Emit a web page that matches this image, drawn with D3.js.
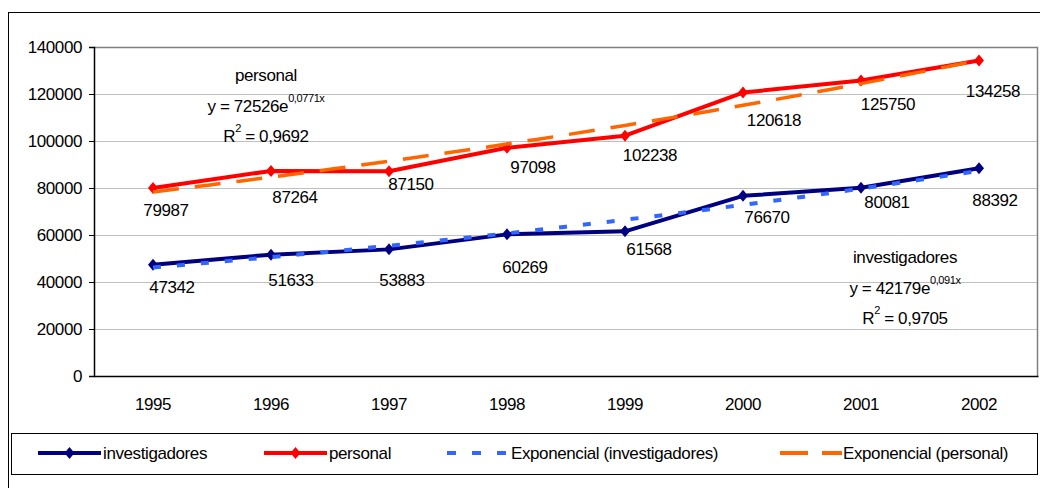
<!DOCTYPE html>
<html>
<head>
<meta charset="utf-8">
<script src="https://cdn.jsdelivr.net/npm/d3@7"></script>
<style>
  body { margin: 0; background: #fff; }
  svg { display: block; font-family: "Liberation Sans", Arial, sans-serif; }
  svg text { letter-spacing: -0.4px; }
</style>
</head>
<body>
<div id="chart"></div>
<script>
// data
const years = ["1995", "1996", "1997", "1998", "1999", "2000", "2001", "2002"];
const investigadores = [47342, 51633, 53883, 60269, 61568, 76670, 80081, 88392];
const personal = [79987, 87264, 87150, 97098, 102238, 120618, 125750, 134258];
const yTicks = [0, 20000, 40000, 60000, 80000, 100000, 120000, 140000];
// exponential trend coefficients shown on the chart: y = a * e^(b*x)
const trendInvestigadores = { a: 42179, b: 0.091, r2: "0,9705", bLabel: "0,091x" };
const trendPersonal = { a: 72526, b: 0.0771, r2: "0,9692", bLabel: "0,0771x" };

// label offsets (pixels) – the labels were moved by hand in the original
const offInv = [[19, 23], [20, 26], [13, 31], [18, 33], [24, 18], [24, 22], [26, 15], [16, 32]];
const offPer = [[13, 22], [24, 27], [22, 13], [26, 20], [25, 20], [31, 28], [27, 24], [14, 31]];

const width = 1040, height = 488;
const plot = { left: 94, right: 1038, top: 47, bottom: 376 };
const fs = 17;

const svg = d3.select("#chart").append("svg").attr("width", width).attr("height", height);

// outer chart border (runs off the right/bottom edge)
svg.append("rect").attr("x", 8.5).attr("y", 12.5).attr("width", 1100).attr("height", 600)
  .attr("fill", "none").attr("stroke", "#000").attr("stroke-width", 1);

const x = d3.scaleBand().domain(years).range([plot.left, plot.right]).padding(0);
const cx = d => x(d) + x.bandwidth() / 2;
const y = d3.scaleLinear().domain([0, 140000]).range([plot.bottom, plot.top]);
// continuous position for trendline (x = 1..8)
const xt = d3.scaleLinear().domain([1, years.length]).range([cx(years[0]), cx(years[years.length - 1])]);

// gridlines
svg.append("g").selectAll("line").data(yTicks.slice(1)).join("line")
  .attr("x1", plot.left).attr("x2", plot.right)
  .attr("y1", d => Math.round(y(d)) + 0.5).attr("y2", d => Math.round(y(d)) + 0.5)
  .attr("stroke", "#c0c0c0").attr("stroke-width", 1);

// plot border top/right
svg.append("path")
  .attr("d", `M${plot.left},${plot.top + 0.5}H${plot.right - 0.5}V${plot.bottom}`)
  .attr("fill", "none").attr("stroke", "#808080").attr("stroke-width", 1.5);

// y axis
const yAxis = svg.append("g").attr("transform", `translate(${plot.left},0)`)
  .call(d3.axisLeft(y).tickValues(yTicks).tickFormat(d3.format("d")).tickSize(5).tickPadding(7));
yAxis.select(".domain").attr("stroke", "#000").attr("stroke-width", 1.5);
yAxis.selectAll(".tick line").attr("stroke", "#000");
yAxis.selectAll(".tick text").attr("font-size", fs).attr("fill", "#000")
  .attr("font-family", "Liberation Sans, Arial, sans-serif");

// x axis
const xAxis = svg.append("g").attr("transform", `translate(0,${plot.bottom})`)
  .call(d3.axisBottom(x).tickSize(0).tickPadding(22));
xAxis.select(".domain").attr("stroke", "#000").attr("stroke-width", 1.5);
xAxis.selectAll(".tick text").attr("font-size", fs).attr("fill", "#000")
  .attr("font-family", "Liberation Sans, Arial, sans-serif");

const line = d3.line().x((d, i) => cx(years[i])).y(d => y(d));
const trendLine = d3.line().x(d => xt(d[0])).y(d => y(d[1]));

function trendPoints(t) {
  const pts = [];
  for (let k = 1; k <= years.length; k += 0.25) pts.push([k, t.a * Math.exp(t.b * k)]);
  return pts;
}

const diamond = "M0,-6L5,0L0,6L-5,0Z";

function drawSeries(values, color) {
  svg.append("path").datum(values).attr("d", line)
    .attr("fill", "none").attr("stroke", color).attr("stroke-width", 4).attr("stroke-linejoin", "round");
  svg.append("g").selectAll("path").data(values).join("path")
    .attr("d", diamond).attr("fill", color)
    .attr("transform", (d, i) => `translate(${cx(years[i])},${y(d)})`);
}

function drawLabels(values, offs) {
  svg.append("g").selectAll("text").data(values).join("text")
    .attr("x", (d, i) => cx(years[i]) + offs[i][0])
    .attr("y", (d, i) => y(d) + offs[i][1])
    .attr("text-anchor", "middle").attr("dominant-baseline", "central")
    .attr("font-size", fs).attr("fill", "#000")
    .text(d => d);
}

drawSeries(investigadores, "#000080");
drawSeries(personal, "#ff0000");

// trendlines drawn over the series
svg.append("path").datum(trendPoints(trendInvestigadores)).attr("d", trendLine)
  .attr("fill", "none").attr("stroke", "#3366ff").attr("stroke-width", 4).attr("stroke-dasharray", "8,16");
svg.append("path").datum(trendPoints(trendPersonal)).attr("d", trendLine)
  .attr("fill", "none").attr("stroke", "#ff6600").attr("stroke-width", 3.5).attr("stroke-dasharray", "26,16");

drawLabels(investigadores, offInv);
drawLabels(personal, offPer);

// trend equation boxes
function trendText(cxPos, yTop, name, t) {
  const g = svg.append("g").attr("font-size", fs).attr("fill", "#000").attr("text-anchor", "middle");
  g.append("text").attr("x", cxPos).attr("y", yTop).attr("dominant-baseline", "central").text(name);
  const eq = g.append("text").attr("x", cxPos).attr("y", yTop + 31).attr("dominant-baseline", "central");
  eq.append("tspan").text(`y = ${t.a}e`);
  eq.append("tspan").attr("font-size", 11).attr("dy", -8).text(t.bLabel);
  const r = g.append("text").attr("x", cxPos).attr("y", yTop + 61).attr("dominant-baseline", "central");
  r.append("tspan").text("R");
  r.append("tspan").attr("font-size", 11).attr("dy", -8).text("2");
  r.append("tspan").attr("dy", 8).text(" = " + t.r2);
}
trendText(266, 75, "personal", trendPersonal);
trendText(905, 257, "investigadores", trendInvestigadores);

// legend
const leg = svg.append("g");
leg.append("rect").attr("x", 11.5).attr("y", 433.5).attr("width", 1026).attr("height", 41)
  .attr("fill", "#fff").attr("stroke", "#000").attr("stroke-width", 1);
const legY = 453;
const legendItems = [
  { name: "investigadores", color: "#000080", x0: 38, x1: 101, tx: 103, dash: null, marker: true },
  { name: "personal", color: "#ff0000", x0: 264, x1: 327, tx: 329, dash: null, marker: true },
  { name: "Exponencial (investigadores)", color: "#3366ff", x0: 447, x1: 506, tx: 511, dash: "9,16", marker: false },
  { name: "Exponencial (personal)", color: "#ff6600", x0: 780, x1: 842, tx: 843, dash: "28,14", marker: false }
];
legendItems.forEach(it => {
  leg.append("line").attr("x1", it.x0).attr("x2", it.x1).attr("y1", legY).attr("y2", legY)
    .attr("stroke", it.color).attr("stroke-width", 4)
    .attr("stroke-dasharray", it.dash);
  if (it.marker) {
    leg.append("path").attr("d", diamond).attr("fill", it.color)
      .attr("transform", `translate(${(it.x0 + it.x1) / 2},${legY})`);
  }
  leg.append("text").attr("x", it.tx).attr("y", legY).attr("dominant-baseline", "central")
    .attr("font-size", fs).attr("fill", "#000").text(it.name);
});
</script>
</body>
</html>
